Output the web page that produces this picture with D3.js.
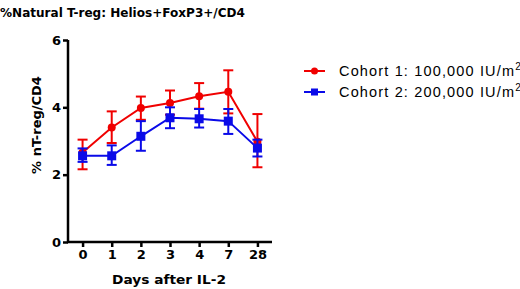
<!DOCTYPE html>
<html><head><meta charset="utf-8">
<script src="https://cdn.jsdelivr.net/npm/d3@7"></script>
<style>body{margin:0;background:#fff;}svg{display:block;}</style>
</head><body>
<svg id="c" width="520" height="289"></svg>
<script>
const days = ["0","1","2","3","4","7","28"];
const cohort1Mean = [2.66, 3.40, 3.98, 4.13, 4.33, 4.46, 2.98];
const cohort1Lo   = [2.16, 2.94, 3.63, 3.78, 3.96, 3.82, 2.22];
const cohort1Hi   = [3.04, 3.88, 4.32, 4.50, 4.72, 5.10, 3.80];
const cohort2Mean = [2.56, 2.56, 3.14, 3.69, 3.66, 3.59, 2.79];
const cohort2Lo   = [2.38, 2.29, 2.71, 3.38, 3.40, 3.21, 2.54];
const cohort2Hi   = [2.78, 2.87, 3.59, 4.00, 3.95, 3.95, 3.04];
const yTicks = [0, 2, 4, 6];
const titleText = "%Natural T-reg: Helios+FoxP3+/CD4";
const yLabel = "% nT-reg/CD4";
const xLabel = "Days after IL-2";
const legendLabels = ["Cohort 1: 100,000 IU/m", "Cohort 2: 200,000 IU/m"];
const colors = ["#f00000", "#0a0ae8"];

const svg = d3.select("#c");
const x = d3.scalePoint().domain(days).range([68, 272]).padding(0.5);
const y = d3.scaleLinear().domain([0, 6]).range([242, 40]);

// title
svg.append("text").attr("x", 0).attr("y", 17)
  .attr("font-family", "DejaVu Sans").attr("font-weight", "bold").attr("font-size", 13)
  .attr("textLength", 245).attr("lengthAdjust", "spacingAndGlyphs")
  .text(titleText);

// axes
const yAxis = svg.append("g").attr("transform", "translate(68,0)")
  .call(d3.axisLeft(y).tickValues(yTicks).tickSize(5).tickPadding(2).tickFormat(d3.format("d")));
const xAxis = svg.append("g").attr("transform", "translate(0,242)")
  .call(d3.axisBottom(x).tickSize(5).tickPadding(3));
[yAxis, xAxis].forEach(g => {
  g.select(".domain").attr("stroke", "#000").attr("stroke-width", 2.5);
  g.selectAll(".tick line").attr("stroke", "#000").attr("stroke-width", 2.5);
  g.selectAll(".tick text").attr("fill", "#000").attr("font-family", "DejaVu Sans")
    .attr("font-weight", "bold").attr("font-size", 13);
});
yAxis.select(".domain").attr("d", `M0,${y(6)}V${y(0)+1}`);
xAxis.select(".domain").attr("d", `M${68-1},0H272`);

svg.append("text").attr("transform", "translate(41,125) rotate(-90)")
  .attr("text-anchor", "middle").attr("font-family", "DejaVu Sans").attr("font-weight", "bold")
  .attr("font-size", 13).text(yLabel);
svg.append("text").attr("x", 169).attr("y", 284).attr("text-anchor", "middle")
  .attr("font-family", "DejaVu Sans").attr("font-weight", "bold").attr("font-size", 13)
  .attr("textLength", 114).attr("lengthAdjust", "spacingAndGlyphs").text(xLabel);

const series = [
  {mean: cohort1Mean, lo: cohort1Lo, hi: cohort1Hi, color: colors[0], shape: "circle"},
  {mean: cohort2Mean, lo: cohort2Lo, hi: cohort2Hi, color: colors[1], shape: "square"}
];
const line = d3.line().x((d, i) => x(days[i])).y(d => y(d));

series.forEach(s => {
  const g = svg.append("g");
  g.append("path").attr("d", line(s.mean)).attr("fill", "none")
    .attr("stroke", s.color).attr("stroke-width", 2);
  days.forEach((d, i) => {
    const cx = x(d);
    g.append("line").attr("x1", cx).attr("x2", cx).attr("y1", y(s.lo[i])).attr("y2", y(s.hi[i]))
      .attr("stroke", s.color).attr("stroke-width", 2);
    [s.lo[i], s.hi[i]].forEach(v => {
      g.append("line").attr("x1", cx - 5).attr("x2", cx + 5).attr("y1", y(v)).attr("y2", y(v))
        .attr("stroke", s.color).attr("stroke-width", 2);
    });
    if (s.shape === "circle") {
      g.append("circle").attr("cx", cx).attr("cy", y(s.mean[i])).attr("r", 4).attr("fill", s.color);
    } else {
      g.append("rect").attr("x", cx - 4.5).attr("y", y(s.mean[i]) - 4.5).attr("width", 9).attr("height", 9)
        .attr("fill", s.color);
    }
  });
});

// legend
const legY = [71, 92];
series.forEach((s, i) => {
  const g = svg.append("g");
  g.append("line").attr("x1", 304).attr("x2", 325).attr("y1", legY[i]).attr("y2", legY[i])
    .attr("stroke", s.color).attr("stroke-width", 2);
  if (s.shape === "circle") g.append("circle").attr("cx", 314.5).attr("cy", legY[i]).attr("r", 3.5).attr("fill", s.color);
  else g.append("rect").attr("x", 311).attr("y", legY[i] - 3.5).attr("width", 7).attr("height", 7).attr("fill", s.color);
  const t = g.append("text").attr("x", 339).attr("y", legY[i] + 5)
    .attr("font-family", "Liberation Sans").attr("font-size", 14.5).attr("fill", "#000");
  t.append("tspan").attr("textLength", 175).attr("lengthAdjust", "spacing").text(legendLabels[i]);
  t.append("tspan").attr("dy", -6).attr("font-size", 10).text("2");
});
</script>
</body></html>
